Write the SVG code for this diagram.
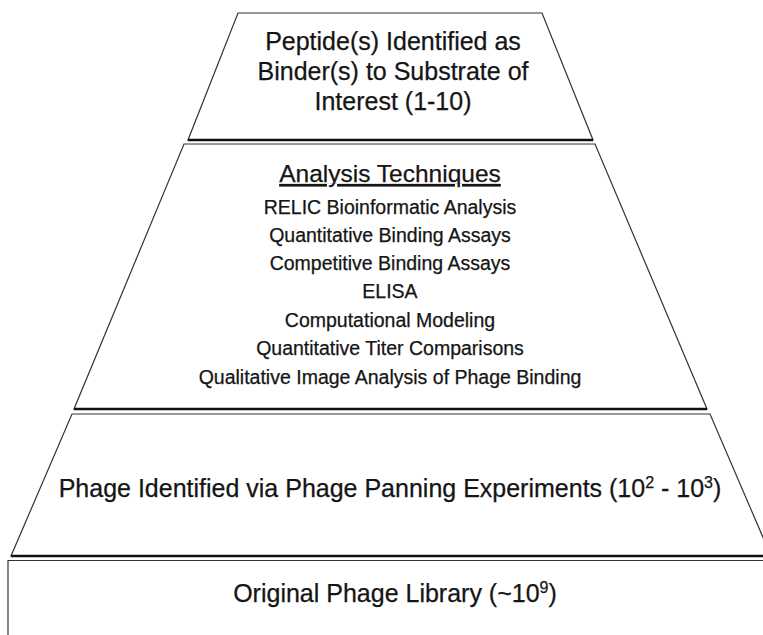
<svg xmlns="http://www.w3.org/2000/svg" width="763" height="635" viewBox="0 0 763 635">
<style>
.side{fill:#ffffff;stroke:#333333;stroke-width:1.2;stroke-linejoin:miter}
.base{stroke:#111111;stroke-width:2.6;fill:none}
.t{font-family:"Liberation Sans",Arial,sans-serif;fill:#151515;stroke:#151515;stroke-width:0.25;text-anchor:middle}
.big{font-size:25px}
.mid{font-size:24.5px}
.sm{font-size:19.5px}
</style>
<rect width="763" height="635" fill="#ffffff"/>
<g id="level4">
<polyline class="side" points="8,635 8,560.5 770,560.5"/>
<text class="t big" x="395" y="602">Original Phage Library (~10<tspan font-size="16" dy="-9">9</tspan><tspan dy="9">)</tspan></text>
</g>
<g id="level3">
<polygon class="side" points="72,414 710,414 771,556 11,556"/>
<line class="base" x1="11" y1="556" x2="763" y2="556"/>
<text class="t big" x="390" y="497">Phage Identified via Phage Panning Experiments (10<tspan font-size="16" dy="-9">2</tspan><tspan dy="9"> - 10</tspan><tspan font-size="16" dy="-9">3</tspan><tspan dy="9">)</tspan></text>
</g>
<g id="level2">
<polygon class="side" points="184,144 595,144 707,409 74,409"/>
<line class="base" x1="74" y1="409" x2="707" y2="409"/>
<text class="t mid" x="390" y="182" text-decoration="underline">Analysis Techniques</text>
<text class="t sm" x="390" y="214">RELIC Bioinformatic Analysis</text>
<text class="t sm" x="390" y="242">Quantitative Binding Assays</text>
<text class="t sm" x="390" y="270">Competitive Binding Assays</text>
<text class="t sm" x="390" y="298">ELISA</text>
<text class="t sm" x="390" y="327">Computational Modeling</text>
<text class="t sm" x="390" y="355">Quantitative Titer Comparisons</text>
<text class="t sm" x="390" y="384">Qualitative Image Analysis of Phage Binding</text>
</g>
<g id="level1">
<polygon class="side" points="238,13 542,13 593,140 188,140"/>
<line class="base" x1="188" y1="140" x2="593" y2="140"/>
<text class="t big" x="393" y="50">Peptide(s) Identified as</text>
<text class="t big" x="393" y="80">Binder(s) to Substrate of</text>
<text class="t big" x="393" y="110">Interest (1-10)</text>
</g>
<g id="connectors"></g>
</svg>
